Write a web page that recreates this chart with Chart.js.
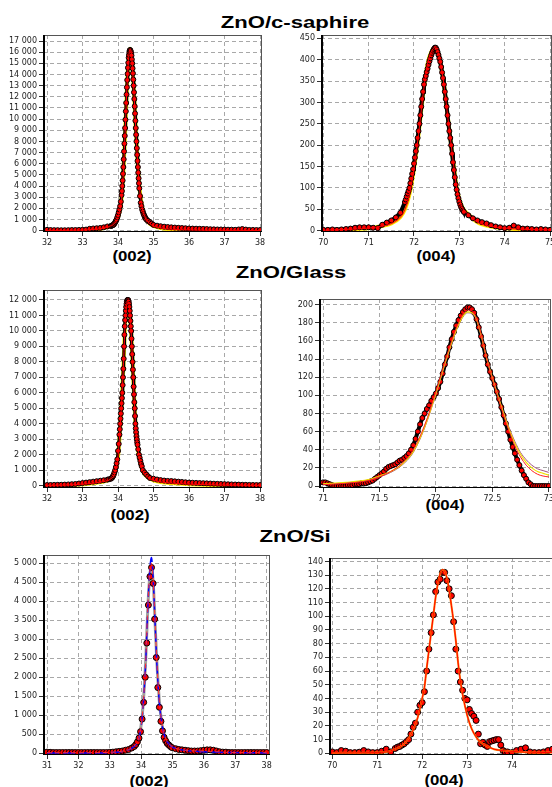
<!DOCTYPE html>
<html>
<head>
<meta charset="utf-8">
<script src="https://cdn.jsdelivr.net/npm/chart.js@4.4.1/dist/chart.umd.min.js"></script>
<style>
  html, body { margin: 0; padding: 0; background: #fff; }
  body { position: relative; width: 552px; height: 787px; overflow: hidden; }
  canvas { position: absolute; }
  .title, .sub {
    position: absolute;
    white-space: nowrap;
    font-family: "Liberation Sans", Arial, sans-serif;
    font-weight: bold;
    color: #000;
  }
  .title { font-size: 17px; line-height: 17px; transform: translate(-50%, -50%) scaleX(1.3); }
  .sub { font-size: 14px; line-height: 14px; transform: translate(-50%, -50%) scaleX(1.2); }
</style>
</head>
<body>
<div class="title" style="left:295px; top:22px">ZnO/c-saphire</div>
<div class="title" style="left:291px; top:272px">ZnO/Glass</div>
<div class="title" style="left:295px; top:536px">ZnO/Si</div>
<div class="sub" style="left:132px; top:256px">(002)</div>
<div class="sub" style="left:436px; top:256px">(004)</div>
<div class="sub" style="left:130px; top:515px">(002)</div>
<div class="sub" style="left:445px; top:505px">(004)</div>
<div class="sub" style="left:149px; top:781px">(002)</div>
<div class="sub" style="left:444px; top:780px">(004)</div>

<canvas id="sap002"></canvas>
<canvas id="sap004"></canvas>
<canvas id="gla002"></canvas>
<canvas id="gla004"></canvas>
<canvas id="si002"></canvas>
<canvas id="si004"></canvas>

<script>
// ---- ZnO/c-saphire (002) ----
const sap002X = [
  32.0, 32.1, 32.2, 32.3, 32.4, 32.5, 32.6, 32.7, 32.8, 32.9, 33.0, 33.1, 33.2, 33.3, 33.4, 33.5, 33.6, 33.7,
  33.80, 33.82, 33.84, 33.86, 33.88, 33.90, 33.92, 33.94, 33.96, 33.98, 34.00, 34.02, 34.04, 34.06, 34.08,
  34.10, 34.11, 34.12, 34.13, 34.14, 34.15, 34.16, 34.17, 34.18, 34.19,
  34.20, 34.21, 34.22, 34.23, 34.24, 34.25, 34.26, 34.27, 34.28, 34.29,
  34.30, 34.31, 34.32, 34.33, 34.34, 34.35, 34.36, 34.37, 34.38, 34.39,
  34.40, 34.41, 34.42, 34.43, 34.44, 34.45, 34.46, 34.47, 34.48, 34.49,
  34.50, 34.51, 34.52, 34.53, 34.54, 34.55, 34.56, 34.57, 34.58, 34.59, 34.60,
  34.62, 34.64, 34.66, 34.68, 34.70, 34.72, 34.74, 34.76, 34.78, 34.80, 34.85, 34.90, 34.95,
  35.0, 35.1, 35.2, 35.3, 35.4, 35.5, 35.6, 35.7, 35.8, 35.9, 36.0, 36.1, 36.2, 36.3, 36.4, 36.5,
  36.6, 36.7, 36.8, 36.9, 37.0, 37.1, 37.2, 37.3, 37.4, 37.5, 37.6, 37.7, 37.8, 37.9, 38.0
];
const sap002Y = [
  80, 60, 50, 50, 40, 40, 50, 60, 60, 70, 80, 100, 170, 200, 220, 250, 300, 380,
  420, 450, 480, 510, 550, 650, 750, 870, 1000, 1200, 1400, 1650, 1900, 2200, 2600,
  3200, 3550, 4000, 4500, 5100, 5700, 6400, 7100, 7800, 8500,
  9200, 9950, 10700, 11450, 12200, 12850, 13500, 14050, 14600, 15050,
  15500, 15750, 16000, 16150, 16200, 16150, 16050, 15900, 15700, 15350,
  15000, 14550, 14100, 13550, 13000, 12400, 11800, 11150, 10500, 9850,
  9200, 8600, 8000, 7400, 6800, 6250, 5700, 5200, 4700, 4250, 3800,
  3100, 2500, 2200, 1900, 1700, 1500, 1350, 1200, 1100, 1000, 880, 760, 640,
  520, 450, 400, 360, 330, 300, 280, 260, 240, 220, 200, 190, 180, 170, 160, 150,
  130, 120, 110, 110, 100, 90, 90, 80, 110, 150, 100, 70, 70, 60, 60
];
const sap002FitX = [32, 32.5, 33, 33.3, 33.5, 33.7, 33.8, 33.9, 34.0, 34.05, 34.1, 34.15, 34.2, 34.25, 34.3, 34.34,
  34.38, 34.42, 34.46, 34.5, 34.55, 34.6, 34.65, 34.7, 34.8, 34.9, 35.0, 35.2, 35.5, 36.0, 37.0, 38.0];
const sap002FitY = [20, 30, 60, 110, 180, 320, 450, 650, 1200, 1800, 2900, 5200, 8800, 12700, 15500, 16300,
  15700, 14000, 11700, 9100, 6300, 4000, 2700, 1800, 1000, 620, 420, 240, 130, 70, 30, 15];
const sap002XTicks = [32, 33, 34, 35, 36, 37, 38];
const sap002YTicks = [0, 1000, 2000, 3000, 4000, 5000, 6000, 7000, 8000, 9000, 10000, 11000, 12000, 13000, 14000, 15000, 16000, 17000];

// ---- ZnO/c-saphire (004) ----
const sap004X = [
  70.0, 70.1, 70.2, 70.3, 70.4, 70.5, 70.6, 70.7, 70.8, 70.9, 71.0, 71.1, 71.2, 71.3, 71.4, 71.5, 71.6, 71.7,
  71.80, 71.82, 71.84, 71.86, 71.88, 71.90, 71.92, 71.94, 71.96, 71.98,
  72.00, 72.02, 72.04, 72.06, 72.08, 72.10, 72.12, 72.14, 72.16, 72.18,
  72.20, 72.22, 72.24, 72.26, 72.28, 72.30, 72.32, 72.34, 72.36, 72.38,
  72.40, 72.42, 72.44, 72.46, 72.48, 72.50, 72.52, 72.54, 72.56, 72.58,
  72.60, 72.62, 72.64, 72.66, 72.68, 72.70, 72.72, 72.74, 72.76, 72.78,
  72.80, 72.82, 72.84, 72.86, 72.88, 72.90, 72.92, 72.94, 72.96, 72.98,
  73.00, 73.02, 73.04, 73.06, 73.08, 73.10,
  73.2, 73.3, 73.4, 73.5, 73.6, 73.7, 73.8, 73.9, 74.0, 74.1, 74.2, 74.3, 74.4, 74.5, 74.6, 74.7, 74.8, 74.9, 75.0
];
const sap004Y = [
  2, 2, 3, 2, 3, 4, 5, 7, 8, 8, 8, 7, 6, 14, 19, 24, 31, 42,
  67, 73, 80, 87, 93, 100, 111, 122, 133, 144,
  157, 171, 186, 200, 217, 233, 250, 270, 290, 308,
  325, 342, 354, 362, 371, 379, 388, 396, 403, 410,
  416, 421, 425, 428, 428, 424, 418, 411, 403, 395,
  383, 370, 357, 342, 325, 308, 290, 270, 250, 233,
  217, 200, 180, 160, 142, 125, 108, 96, 85, 76,
  68, 61, 55, 51, 47, 44,
  36, 29, 24, 20, 17, 13, 10, 8, 6, 7, 12, 8, 5, 5, 4, 3, 4, 3, 2
];
const sap004FitX = [70.0, 70.5, 71.0, 71.3, 71.5, 71.7, 71.8, 71.9, 72.0, 72.1, 72.2, 72.3, 72.4, 72.47,
  72.55, 72.65, 72.75, 72.85, 72.95, 73.05, 73.2, 73.4, 73.7, 74.0, 74.5, 75.0];
const sap004FitY = [1, 3, 6, 11, 17, 32, 50, 85, 145, 225, 318, 390, 422, 428,
  410, 350, 262, 175, 95, 58, 38, 20, 10, 6, 3, 2];
const sap004XTicks = [70, 71, 72, 73, 74, 75];
const sap004YTicks = [0, 50, 100, 150, 200, 250, 300, 350, 400, 450];

// ---- ZnO/Glass (002) ----
const gla002X = [
  32.0, 32.1, 32.2, 32.3, 32.4, 32.5, 32.6, 32.7, 32.8, 32.9, 33.0, 33.1, 33.2, 33.3, 33.4, 33.5, 33.6, 33.7,
  33.75, 33.80, 33.82, 33.84, 33.86, 33.88, 33.90, 33.92, 33.94, 33.96, 33.98, 34.00, 34.02, 34.04,
  34.05, 34.06, 34.07, 34.08, 34.09, 34.10, 34.11, 34.12, 34.13, 34.14,
  34.15, 34.16, 34.17, 34.18, 34.19, 34.20, 34.21, 34.22, 34.23, 34.24,
  34.25, 34.26, 34.27, 34.28, 34.29, 34.30, 34.31, 34.32, 34.33, 34.34,
  34.35, 34.36, 34.37, 34.38, 34.39, 34.40, 34.41, 34.42, 34.43, 34.44,
  34.45, 34.46, 34.47, 34.48, 34.49, 34.50, 34.51, 34.52, 34.53, 34.54, 34.55,
  34.57, 34.59, 34.61, 34.63, 34.65, 34.67, 34.70, 34.75, 34.80, 34.85, 34.90,
  35.0, 35.1, 35.2, 35.3, 35.4, 35.5, 35.6, 35.7, 35.8, 35.9, 36.0, 36.1, 36.2, 36.3, 36.4, 36.5,
  36.6, 36.7, 36.8, 36.9, 37.0, 37.1, 37.2, 37.3, 37.4, 37.5, 37.6, 37.7, 37.8, 37.9, 38.0
];
const gla002Y = [
  40, 45, 50, 55, 60, 70, 80, 95, 110, 140, 170, 200, 230, 260, 290, 320, 350, 390,
  420, 450, 490, 540, 620, 720, 860, 1000, 1200, 1450, 1700, 2250, 2700, 3300,
  3650, 4000, 4330, 4660, 5000, 5330, 5660, 6000, 6500, 7000,
  7550, 8200, 9000, 9750, 10300, 10700, 11000, 11300, 11550, 11750,
  11900, 11980, 12000, 12000, 11980, 11900, 11750, 11550, 11300, 11000,
  10650, 10300, 10000, 9500, 9000, 8500, 8000, 7500, 7000, 6400,
  5900, 5400, 5000, 4500, 4000, 3700, 3450, 3200, 3000, 2800, 2650,
  2350, 2000, 1800, 1600, 1400, 1250, 1000, 850, 720, 600, 500,
  450, 400, 360, 330, 310, 300, 280, 260, 240, 220, 200, 190, 180, 170, 160, 150,
  140, 130, 120, 110, 100, 90, 80, 75, 70, 60, 55, 50, 45, 40, 40
];
const gla002FitX = [32, 32.5, 33, 33.5, 33.8, 33.9, 34.0, 34.05, 34.1, 34.15, 34.2, 34.25, 34.28, 34.32,
  34.36, 34.4, 34.45, 34.5, 34.55, 34.6, 34.7, 34.8, 35.0, 35.5, 36.0, 37.0, 38.0];
const gla002FitY = [20, 40, 100, 230, 450, 750, 1900, 3400, 5300, 7600, 10400, 11800, 12000, 11600,
  10300, 8500, 5900, 3700, 2600, 1800, 950, 620, 350, 170, 100, 40, 20];
const gla002XTicks = [32, 33, 34, 35, 36, 37, 38];
const gla002YTicks = [0, 1000, 2000, 3000, 4000, 5000, 6000, 7000, 8000, 9000, 10000, 11000, 12000];

// ---- ZnO/Glass (004) ----
const gla004X = [
  71.00, 71.02, 71.04, 71.06, 71.08, 71.10, 71.12, 71.14, 71.16, 71.18,
  71.20, 71.22, 71.24, 71.26, 71.28, 71.30, 71.32, 71.34, 71.36, 71.38,
  71.40, 71.42, 71.44, 71.46, 71.48, 71.50, 71.52, 71.54, 71.56, 71.58,
  71.60, 71.62, 71.64, 71.66, 71.68, 71.70, 71.72, 71.74, 71.76, 71.78,
  71.80, 71.82, 71.84, 71.86, 71.88, 71.90, 71.92, 71.94, 71.96, 71.98,
  72.00, 72.02, 72.04, 72.06, 72.08, 72.10, 72.12, 72.14, 72.16, 72.18,
  72.20, 72.22, 72.24, 72.26, 72.28, 72.30, 72.32, 72.34, 72.36, 72.38,
  72.40, 72.42, 72.44, 72.46, 72.48, 72.50, 72.52, 72.54, 72.56, 72.58,
  72.60, 72.62, 72.64, 72.66, 72.68, 72.70, 72.72, 72.74, 72.76, 72.78,
  72.80, 72.82, 72.84, 72.86, 72.88, 72.90, 72.92, 72.94, 72.96, 72.98, 73.00
];
const gla004Y = [
  4, 4, 3, 2, 1, 0, 0, 0, 0, 0,
  0, 1, 1, 1, 2, 2, 2, 3, 3, 3,
  4, 5, 6, 8, 10, 12, 14, 16, 19, 21,
  22, 23, 24, 26, 28, 29, 31, 33, 36, 40,
  45, 52, 60, 68, 75, 80, 85, 89, 94, 98,
  102, 108, 115, 124, 134, 143, 153, 162, 170, 177,
  183, 188, 192, 195, 197, 197, 195, 191, 184, 175,
  165, 155, 144, 134, 126, 119, 112, 104, 96, 87,
  78, 69, 60, 51, 43, 36, 29, 23, 17, 12,
  8, 4, 2, 0, 0, 0, 0, 0, 0, 0, 0
];
const gla004FitX = [71.0, 71.2, 71.4, 71.5, 71.6, 71.7, 71.8, 71.9, 72.0, 72.1, 72.2, 72.28, 72.35, 72.4,
  72.45, 72.5, 72.55, 72.6, 72.65, 72.7, 72.75, 72.8, 72.85, 72.9, 72.95, 73.0];
const gla004FitRed = [1.5, 3, 6, 10, 16, 25, 40, 67, 104, 145, 180, 194, 188, 168,
  141, 118, 98, 78, 60, 44, 32, 23, 17, 13, 11, 10];
const gla004FitYellow = [2.5, 4, 7, 11, 16, 24, 38, 65, 102, 143, 178, 192, 187, 167,
  141, 119, 99, 80, 62, 47, 35, 26, 20, 16, 14, 12];
const gla004FitPurple = [2, 3.5, 6.5, 10, 15, 23, 37, 64, 101, 142, 177, 191, 186, 166,
  141, 120, 100, 81, 64, 49, 37, 29, 23, 19, 17, 15];
const gla004XTicks = [71, 71.5, 72, 72.5, 73];
const gla004YTicks = [0, 20, 40, 60, 80, 100, 120, 140, 160, 180, 200];

// ---- ZnO/Si (002) ----
const si002X = [
  31.0, 31.1, 31.2, 31.3, 31.4, 31.5, 31.6, 31.7, 31.8, 31.9, 32.0, 32.1, 32.2, 32.3, 32.4, 32.5, 32.6, 32.7,
  32.8, 32.9, 33.0, 33.1, 33.2, 33.3, 33.4, 33.5, 33.6, 33.7,
  33.78, 33.83, 33.88, 33.93, 33.98, 34.03, 34.08, 34.13, 34.18, 34.23, 34.28, 34.33,
  34.38, 34.43, 34.48, 34.53, 34.58, 34.63, 34.68, 34.73, 34.78, 34.83, 34.88, 34.93, 34.98,
  35.1, 35.2, 35.3, 35.4, 35.5, 35.6, 35.7, 35.8, 35.9, 36.0, 36.1, 36.2, 36.3, 36.4, 36.5,
  36.6, 36.7, 36.8, 36.9, 37.0, 37.1, 37.2, 37.3, 37.4, 37.5, 37.6, 37.7, 37.8, 37.9, 38.0
];
const si002Y = [
  30, 25, 20, 20, 20, 20, 20, 20, 20, 20, 20, 20, 20, 20, 20, 20, 20, 20,
  20, 20, 25, 30, 40, 50, 60, 80, 100, 140,
  180, 230, 300, 400, 570, 900, 1340, 2000, 2900, 3900, 4650, 4890,
  4470, 3530, 2520, 1730, 1210, 840, 590, 420, 330, 260, 220, 180, 150,
  120, 100, 90, 80, 70, 60, 60, 60, 70, 80, 90, 90, 80, 60, 40,
  30, 30, 20, 20, 20, 20, 20, 20, 20, 20, 20, 20, 20, 20, 20
];
const si002FitX = [31, 32, 33, 33.4, 33.6, 33.8, 33.9, 34.0, 34.05, 34.1, 34.15, 34.2, 34.25, 34.3, 34.33, 34.36,
  34.4, 34.45, 34.5, 34.55, 34.6, 34.65, 34.7, 34.8, 34.9, 35.0, 35.3, 35.6, 36.0, 36.5, 37.0, 38.0];
const si002FitBlue = [5, 8, 20, 50, 90, 200, 320, 700, 1100, 1700, 2500, 3600, 4500, 5050, 5150, 4900,
  4300, 3300, 2350, 1650, 1150, 850, 600, 350, 230, 160, 90, 60, 40, 25, 18, 10];
const si002FitGray = [20, 20, 30, 60, 100, 220, 340, 750, 1150, 1750, 2550, 3600, 4400, 4850, 4950, 4750,
  4250, 3300, 2400, 1700, 1180, 840, 600, 360, 240, 170, 100, 70, 80, 40, 20, 20];
const si002FitRed = [15, 15, 25, 55, 95, 210, 330, 720, 1120, 1720, 2520, 3620, 4480, 4950, 5000, 4800,
  4280, 3320, 2420, 1700, 1180, 850, 600, 360, 240, 165, 95, 65, 60, 35, 20, 15];
const si002XTicks = [31, 32, 33, 34, 35, 36, 37, 38];
const si002YTicks = [0, 500, 1000, 1500, 2000, 2500, 3000, 3500, 4000, 4500, 5000];

// ---- ZnO/Si (004) ----
const si004X = [
  70.0, 70.1, 70.2, 70.3, 70.4, 70.5, 70.6, 70.7, 70.8, 70.9, 71.0, 71.1, 71.2, 71.3, 71.4,
  71.45, 71.5, 71.55, 71.6, 71.65, 71.7, 71.75, 71.8, 71.85, 71.9,
  71.95, 72.0, 72.05, 72.1, 72.15, 72.2, 72.25, 72.3, 72.35, 72.4,
  72.45, 72.5, 72.55, 72.6, 72.65, 72.7, 72.75, 72.8, 72.85, 72.9,
  72.95, 73.0, 73.05, 73.1, 73.15, 73.2, 73.25, 73.3, 73.35, 73.4,
  73.45, 73.5, 73.55, 73.6, 73.65, 73.7, 73.75, 73.8, 73.85, 73.9,
  74.0, 74.1, 74.2, 74.3, 74.4, 74.5, 74.6, 74.7, 74.8, 74.9
];
const si004Y = [
  1, 0.5, 2, 1.5, 0.5, 0.5, 0.8, 2, 1, 0.5, 0.5, 1.5, 3, 1, 3.5,
  4.5, 5, 6, 7, 8.5, 10, 14, 19, 22, 30,
  35, 37, 45, 60, 76, 88, 101, 118, 125, 127,
  132, 132, 126, 120, 115, 96, 76, 60, 52, 46,
  40, 39, 32, 29, 27, 24, 14, 7, 8, 6,
  5, 8.5, 9, 9.5, 10, 10, 6, 2, 1, 1,
  0.5, 2, 3, 4, 1, 0.5, 0.5, 1, 2, 3
];
const si004FitX = [70.0, 71.0, 71.2, 71.4, 71.5, 71.6, 71.7, 71.8, 71.9, 72.0, 72.05, 72.1, 72.15, 72.2, 72.25,
  72.3, 72.35, 72.4, 72.45, 72.5, 72.55, 72.6, 72.65, 72.7, 72.75, 72.8, 72.85, 72.9, 73.0, 73.1,
  73.2, 73.3, 73.4, 73.6, 73.8, 74.2, 74.9];
const si004FitY = [0.3, 0.5, 1, 3, 4.5, 7, 11, 17, 26, 40, 48, 62, 75, 88, 101,
  114, 124, 131, 134, 133, 128, 119, 108, 96, 82, 66, 53, 43, 28, 18,
  12, 8, 6, 3, 2, 1, 0.5];
const si004XTicks = [70, 71, 72, 73, 74, 75];
const si004YTicks = [0, 10, 20, 30, 40, 50, 60, 70, 80, 90, 100, 110, 120, 130, 140];

const TICK_FONT = { family: "DejaVu Sans", size: 8 };

function pts(xs, ys) {
  return xs.map((x, i) => ({ x: x, y: ys[i] }));
}

function fmt(v) {
  if (Math.abs(v) >= 1000) {
    return Math.floor(v / 1000) + " " + String(v % 1000).padStart(3, "0");
  }
  return String(v);
}

function dots(data, order, radius, lineWidth) {
  return {
    data: data,
    order: order,
    showLine: lineWidth > 0,
    borderColor: "#000",
    borderWidth: lineWidth,
    pointRadius: radius,
    pointBackgroundColor: "#ff0000",
    pointBorderColor: "#000",
    pointBorderWidth: 1,
    tension: 0
  };
}

function curve(data, color, width, order, dash) {
  return {
    data: data,
    order: order,
    showLine: true,
    borderColor: color,
    borderWidth: width,
    borderDash: dash || [],
    pointRadius: 0,
    cubicInterpolationMode: "monotone"
  };
}

const framePlugin = {
  id: "frame",
  afterDatasetsDraw(chart) {
    const { ctx, chartArea: a } = chart;
    ctx.save();
    ctx.strokeStyle = "#555";
    ctx.lineWidth = 1;
    ctx.strokeRect(a.left + 0.5, a.top + 0.5, a.right - a.left - 1, a.bottom - a.top - 1);
    ctx.strokeStyle = "#000";
    ctx.lineWidth = 2;
    ctx.beginPath();
    ctx.moveTo(a.left + 1, a.top);
    ctx.lineTo(a.left + 1, a.bottom);
    ctx.stroke();
    ctx.lineWidth = 1;
    ctx.beginPath();
    ctx.moveTo(a.left, a.bottom - 0.5);
    ctx.lineTo(a.right, a.bottom - 0.5);
    ctx.stroke();
    ctx.restore();
  }
};

function axis(min, max, ticks, fit) {
  return {
    type: "linear",
    min: min,
    max: max,
    afterBuildTicks: (s) => { s.ticks = ticks.map((v) => ({ value: v })); },
    afterFit: fit,
    grid: { color: "#a8a8a8", lineWidth: 1, tickLength: 4, tickColor: "#333", tickBorderDash: [] },
    border: { display: false, dash: [4, 3] },
    ticks: { font: TICK_FONT, color: "#222", padding: 2, autoSkip: false, maxRotation: 0, callback: (v) => fmt(v) }
  };
}

function panel(id, box, scales, datasets) {
  const canvas = document.getElementById(id);
  canvas.width = box.width;
  canvas.height = box.height;
  canvas.style.left = box.left + "px";
  canvas.style.top = box.top + "px";
  new Chart(canvas, {
    type: "scatter",
    data: { datasets: datasets },
    options: {
      responsive: false,
      animation: false,
      devicePixelRatio: 1,
      layout: { padding: { top: 10, right: box.padRight, left: 0, bottom: 0 } },
      plugins: { legend: { display: false }, tooltip: { enabled: false } },
      scales: {
        x: axis(scales.xMin, scales.xMax, scales.xTicks, (s) => { s.height = 20; }),
        y: axis(scales.yMin, scales.yMax, scales.yTicks, (s) => { s.width = box.yWidth; })
      }
    },
    plugins: [framePlugin]
  });
}

panel("sap002", { left: 0, top: 25, width: 274, height: 227, yWidth: 43, padRight: 12 },
  { xMin: 31.887, xMax: 38.056, yMin: -116, yMax: 17538, xTicks: sap002XTicks, yTicks: sap002YTicks },
  [
    curve(pts(sap002FitX, sap002FitY), "#ff0000", 1, 0),
    dots(pts(sap002X, sap002Y), 1, 2.5, 3),
    curve(pts(sap002FitX, sap002FitY), "#ff9900", 2.5, 2),
    curve(pts(sap002FitX, sap002FitY), "#ffee00", 4, 3)
  ]);

panel("sap004", { left: 276, top: 25, width: 290, height: 227, yWidth: 45, padRight: 14 },
  { xMin: 69.949, xMax: 75.044, yMin: -3, yMax: 457.7, xTicks: sap004XTicks, yTicks: sap004YTicks },
  [
    curve(pts(sap004FitX, sap004FitY), "#ff0000", 1, 0),
    dots(pts(sap004X, sap004Y), 1, 2.5, 4),
    curve(pts(sap004FitX, sap004FitY), "#ff9900", 2.5, 2),
    curve(pts(sap004FitX, sap004FitY), "#ffee00", 4, 3)
  ]);

panel("gla002", { left: 0, top: 280, width: 274, height: 228, yWidth: 43, padRight: 12 },
  { xMin: 31.887, xMax: 38.056, yMin: -149, yMax: 12646, xTicks: gla002XTicks, yTicks: gla002YTicks },
  [
    curve(pts(gla002FitX, gla002FitY), "#ff0000", 1, 0),
    dots(pts(gla002X, gla002Y), 1, 2.5, 3),
    curve(pts(gla002FitX, gla002FitY), "#ff9900", 2.5, 2),
    curve(pts(gla002FitX, gla002FitY), "#ffee00", 4, 3)
  ]);

panel("gla004", { left: 276, top: 289, width: 287, height: 219, yWidth: 43, padRight: 12 },
  { xMin: 70.9645, xMax: 73.02, yMin: -2.2, yMax: 206.3, xTicks: gla004XTicks, yTicks: gla004YTicks },
  [
    curve(pts(gla004FitX, gla004FitRed), "#ff2020", 1, 0),
    curve(pts(gla004FitX, gla004FitYellow), "#f0e000", 1.2, 1),
    curve(pts(gla004FitX, gla004FitPurple), "#a05080", 1, 2),
    dots(pts(gla004X, gla004Y), 3, 2.5, 4)
  ]);

panel("si002", { left: 0, top: 545, width: 282, height: 230, yWidth: 43, padRight: 12 },
  { xMin: 30.872, xMax: 38.105, yMin: -45, yMax: 5218, xTicks: si002XTicks, yTicks: si002YTicks },
  [
    curve(pts(si002FitX, si002FitRed), "#ff3030", 1, 0, [5, 3]),
    curve(pts(si002FitX, si002FitBlue), "#0000ff", 1.5, 1, [12, 4]),
    dots(pts(si002X, si002Y), 2, 3, 0),
    curve(pts(si002FitX, si002FitGray), "#a0a0a0", 3, 3)
  ]);

panel("si004", { left: 276, top: 548, width: 296, height: 227, yWidth: 53, padRight: 12 },
  { xMin: 69.927, xMax: 75.067, yMin: -1.24, yMax: 142.5, xTicks: si004XTicks, yTicks: si004YTicks },
  [
    curve(pts(si004FitX, si004FitY), "#ff0000", 1, 0),
    curve(pts(si004FitX, si004FitY), "#ff8000", 2, 1),
    dots(pts(si004X, si004Y), 2, 3, 0)
  ]);
</script>
</body>
</html>
